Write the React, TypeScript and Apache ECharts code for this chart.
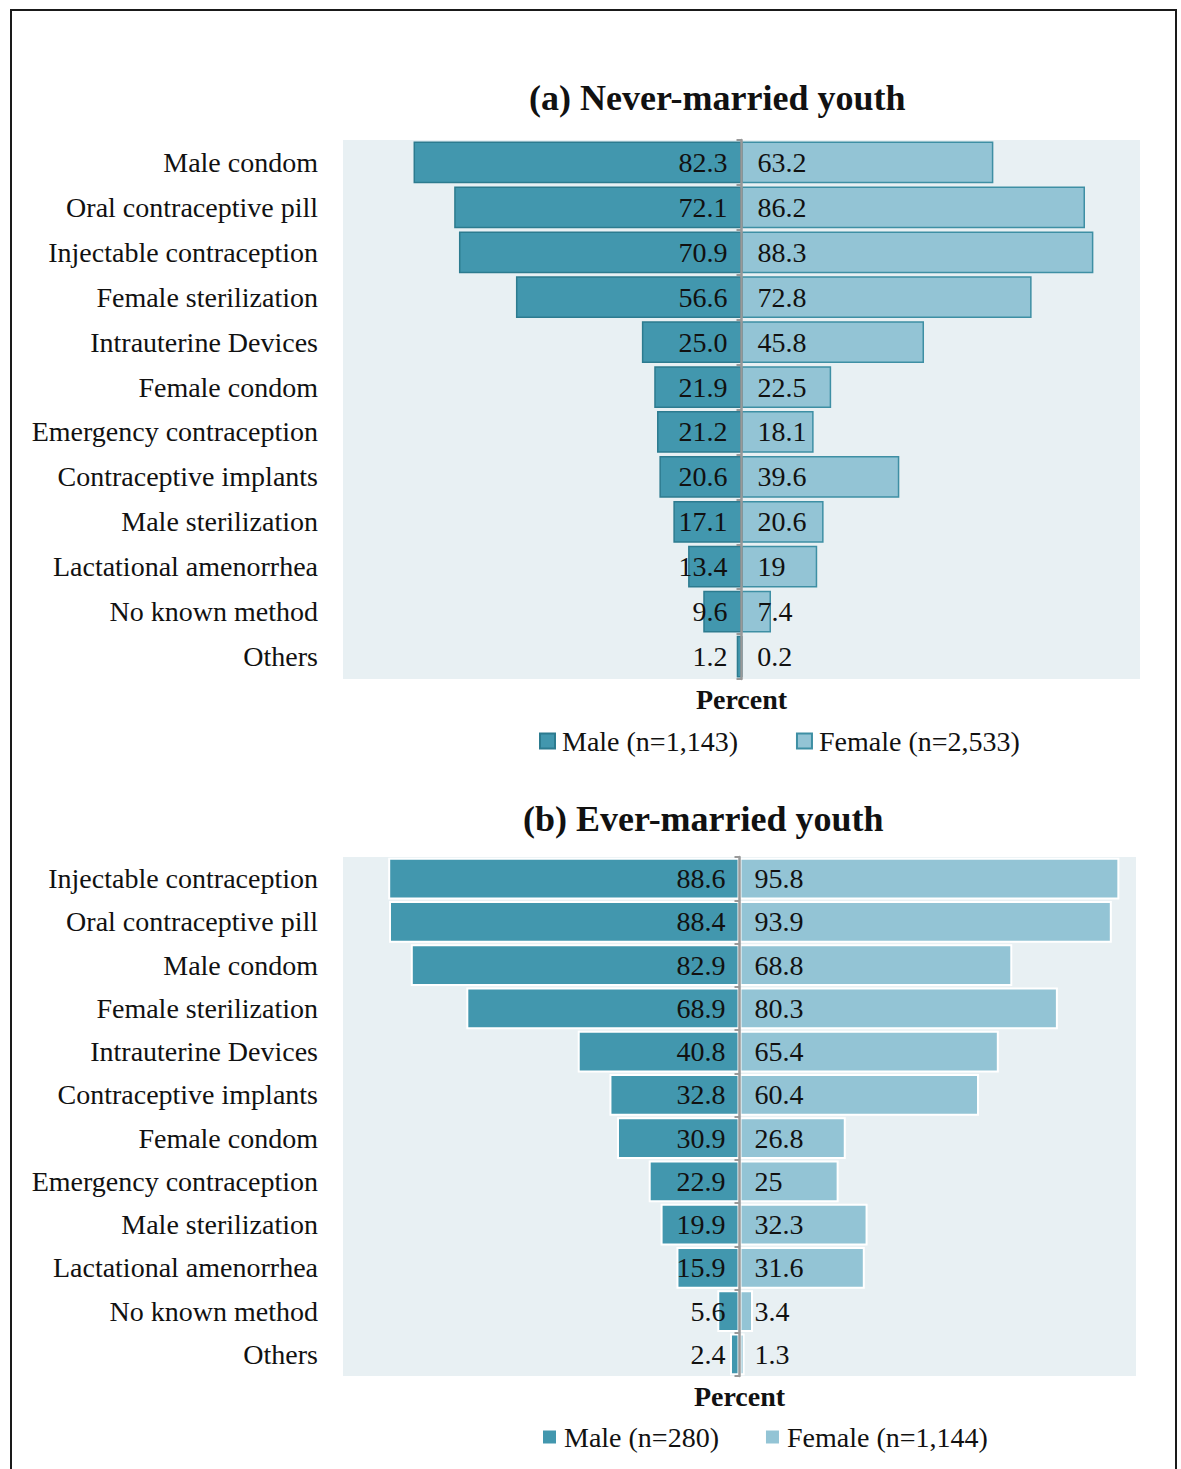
import React, { useEffect, useRef } from "react";
import * as echarts from "echarts";

const categoriesA = [
  "Male condom",
  "Oral contraceptive pill",
  "Injectable contraception",
  "Female sterilization",
  "Intrauterine Devices",
  "Female condom",
  "Emergency contraception",
  "Contraceptive implants",
  "Male sterilization",
  "Lactational amenorrhea",
  "No known method",
  "Others",
];
const maleA = ["82.3", "72.1", "70.9", "56.6", "25.0", "21.9", "21.2", "20.6", "17.1", "13.4", "9.6", "1.2"];
const femaleA = ["63.2", "86.2", "88.3", "72.8", "45.8", "22.5", "18.1", "39.6", "20.6", "19", "7.4", "0.2"];

const categoriesB = [
  "Injectable contraception",
  "Oral contraceptive pill",
  "Male condom",
  "Female sterilization",
  "Intrauterine Devices",
  "Contraceptive implants",
  "Female condom",
  "Emergency contraception",
  "Male sterilization",
  "Lactational amenorrhea",
  "No known method",
  "Others",
];
const maleB = ["88.6", "88.4", "82.9", "68.9", "40.8", "32.8", "30.9", "22.9", "19.9", "15.9", "5.6", "2.4"];
const femaleB = ["95.8", "93.9", "68.8", "80.3", "65.4", "60.4", "26.8", "25", "32.3", "31.6", "3.4", "1.3"];

const seriesNames = {
  maleA: "Male (n=1,143)",
  femaleA: "Female (n=2,533)",
  maleB: "Male (n=280)",
  femaleB: "Female (n=1,144)",
};

const FONT = "'Liberation Serif', 'Times New Roman', serif";
const MALE = "#4297ae";
const FEMALE = "#93c4d5";
const BG = "#e8f0f3";
const TXT = "#111111";
const FS = 28;

function toData(arr: string[], sign: number) {
  return arr.map((s) => ({ value: sign * parseFloat(s), raw: s }));
}

export default function App() {
  const ref = useRef<HTMLDivElement>(null);
  useEffect(() => {
    document.body.style.margin = "0";
    if (!ref.current) return;
    const chart = echarts.init(ref.current, null, { renderer: "svg" });

    const grids = [
      { left: 343, top: 140, width: 797, height: 539 },
      { left: 343, top: 857, width: 793, height: 519 },
    ];

    const mkX = (gi: number) => ({
      type: "value",
      gridIndex: gi,
      min: -100,
      max: 100,
      axisLine: { show: false },
      axisTick: { show: false },
      axisLabel: { show: false },
      splitLine: { show: false },
      name: "Percent",
      nameLocation: "middle",
      nameGap: 6,
      nameTextStyle: { fontFamily: FONT, fontSize: FS, fontWeight: "bold", color: TXT },
    });

    const mkYLabels = (gi: number, cats: string[]) => ({
      type: "category",
      gridIndex: gi,
      data: cats,
      inverse: true,
      position: "left",
      axisLine: { show: false, onZero: false },
      axisTick: { show: false },
      axisLabel: { fontFamily: FONT, fontSize: FS, color: TXT, margin: 25 },
    });

    const mkYCenter = (gi: number, cats: string[]) => ({
      type: "category",
      gridIndex: gi,
      data: cats,
      inverse: true,
      position: "left",
      z: 10,
      axisLine: { show: true, onZero: true, lineStyle: { color: "#999999", width: 2.5 } },
      axisTick: { show: true, length: 5, lineStyle: { color: "#999999", width: 2 } },
      axisLabel: { show: false },
    });

    const labelStyle = { fontFamily: FONT, fontSize: FS, color: TXT };
    const fmt = (p: any) => p.data.raw;

    const option: any = {
      animation: false,
      backgroundColor: "#ffffff",
      title: [
        {
          text: "(a) Never-married youth",
          left: 524,
          top: 75,
          textStyle: { fontFamily: FONT, fontSize: 36, fontWeight: "bold", color: TXT },
        },
        {
          text: "(b) Ever-married youth",
          left: 518,
          top: 796,
          textStyle: { fontFamily: FONT, fontSize: 36, fontWeight: "bold", color: TXT },
        },
      ],
      legend: [
        {
          data: [seriesNames.maleA, seriesNames.femaleA],
          left: 534,
          top: 722,
          itemWidth: 15,
          itemHeight: 15,
          itemGap: 58,
          icon: "rect",
          textStyle: { fontFamily: FONT, fontSize: FS, color: TXT, padding: [0, 0, 0, 2] },
        },
        {
          data: [seriesNames.maleB, seriesNames.femaleB],
          left: 536,
          top: 1418,
          itemWidth: 15,
          itemHeight: 15,
          itemGap: 45,
          icon: "rect",
          textStyle: { fontFamily: FONT, fontSize: FS, color: TXT, padding: [0, 0, 0, 2] },
        },
      ],
      grid: grids.map((g) => ({ ...g, show: true, backgroundColor: BG, borderWidth: 0, containLabel: false })),
      xAxis: [mkX(0), mkX(1)],
      yAxis: [mkYLabels(0, categoriesA), mkYCenter(0, categoriesA), mkYLabels(1, categoriesB), mkYCenter(1, categoriesB)],
      series: [
        {
          name: seriesNames.maleA,
          type: "bar",
          xAxisIndex: 0,
          yAxisIndex: 0,
          data: toData(maleA, -1),
          barCategoryGap: "7%",
          barGap: "-100%",
          itemStyle: { color: MALE, borderColor: "#2c7b8f", borderWidth: 1.5 },
          label: { show: true, position: "insideRight", distance: 14, formatter: fmt, ...labelStyle },
        },
        {
          name: seriesNames.femaleA,
          type: "bar",
          xAxisIndex: 0,
          yAxisIndex: 0,
          data: toData(femaleA, 1),
          barCategoryGap: "7%",
          barGap: "-100%",
          itemStyle: { color: FEMALE, borderColor: "#3e8fa4", borderWidth: 1.5 },
          label: { show: true, position: "insideLeft", distance: 16, formatter: fmt, ...labelStyle },
        },
        {
          name: seriesNames.maleB,
          type: "bar",
          xAxisIndex: 1,
          yAxisIndex: 2,
          data: toData(maleB, -1),
          barCategoryGap: "4%",
          barGap: "-100%",
          itemStyle: { color: MALE, borderColor: "#ffffff", borderWidth: 2 },
          label: { show: true, position: "insideRight", distance: 14, formatter: fmt, ...labelStyle },
        },
        {
          name: seriesNames.femaleB,
          type: "bar",
          xAxisIndex: 1,
          yAxisIndex: 2,
          data: toData(femaleB, 1),
          barCategoryGap: "4%",
          barGap: "-100%",
          itemStyle: { color: FEMALE, borderColor: "#ffffff", borderWidth: 2 },
          label: { show: true, position: "insideLeft", distance: 15, formatter: fmt, ...labelStyle },
        },
      ],
      graphic: [
        {
          type: "polyline",
          shape: { points: [[11, 1469], [11, 10], [1176, 10], [1176, 1469]] },
          style: { stroke: "#1a1a1a", lineWidth: 2, fill: null },
          z: 100,
        },
      ],
    };

    chart.setOption(option);
    return () => chart.dispose();
  }, []);

  return <div ref={ref} style={{ width: 1181, height: 1469, background: "#fff" }} />;
}
